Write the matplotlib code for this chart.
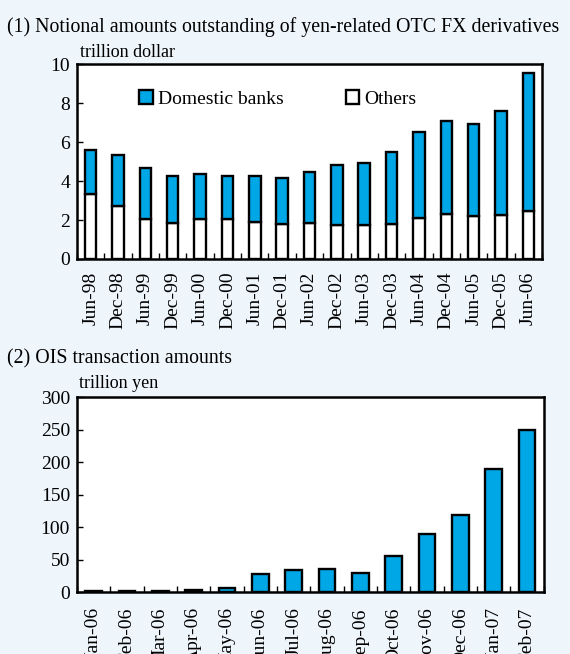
import matplotlib.pyplot as plt
import numpy as np

plt.rcParams['font.family'] = ['Liberation Serif', 'DejaVu Serif']

# (1) yen-related OTC FX derivatives, trillion dollar
periods = ["Jun-98", "Dec-98", "Jun-99", "Dec-99", "Jun-00", "Dec-00", "Jun-01", "Dec-01",
           "Jun-02", "Dec-02", "Jun-03", "Dec-03", "Jun-04", "Dec-04", "Jun-05", "Dec-05", "Jun-06"]
others = [3.35, 2.70, 2.07, 1.85, 2.05, 2.05, 1.91, 1.79, 1.85, 1.74, 1.73, 1.79,
          2.10, 2.32, 2.19, 2.26, 2.46]
domestic = [2.22, 2.63, 2.58, 2.39, 2.31, 2.21, 2.35, 2.38, 2.61, 3.06, 3.18, 3.71,
            4.41, 4.74, 4.73, 5.33, 7.06]

# (2) OIS transaction amounts, trillion yen
months = ["Jan-06", "Feb-06", "Mar-06", "Apr-06", "May-06", "Jun-06", "Jul-06",
          "Aug-06", "Sep-06", "Oct-06", "Nov-06", "Dec-06", "Jan-07", "Feb-07"]
ois = [1.0, 1.0, 2.0, 2.5, 6, 28, 34, 35, 30, 56, 89, 119, 189, 249]

bg = '#EEF5FB'
blue = '#00A7E6'

fig = plt.figure(figsize=(5.7, 6.54), dpi=100, facecolor=bg)

def style_axes(ax, n, pad):
    ax.set_xlim(-0.5, n - 0.5)
    ax.set_xticks(np.arange(n))
    ax.set_xticks(np.arange(n + 1) - 0.5, minor=True)
    ax.tick_params(axis='x', which='major', length=0, labelrotation=90, labelsize=14, pad=pad)
    ax.tick_params(axis='x', which='minor', direction='in', length=4, width=1)
    ax.tick_params(axis='y', direction='in', length=4, width=1, labelsize=14, pad=5)
    for s in ax.spines.values():
        s.set_linewidth(1.8)

# top chart
ax1 = fig.add_axes([0.135, 0.604, 0.816, 0.298])
x1 = np.arange(len(periods))
ax1.bar(x1, others, width=0.42, color='white', edgecolor='black', linewidth=1.7, label='Others')
ax1.bar(x1, domestic, width=0.42, bottom=others, color=blue, edgecolor='black',
        linewidth=1.7, label='Domestic banks')
style_axes(ax1, len(periods), 9)
ax1.set_ylim(0, 10)
ax1.set_yticks(range(0, 11, 2))
ax1.set_xticklabels(periods)
h, l = ax1.get_legend_handles_labels()
ax1.legend(h[::-1], l[::-1], ncol=2, loc='center', bbox_to_anchor=(0.432, 0.82),
           frameon=False, fontsize=14, handlelength=0.7, handleheight=0.7,
           handletextpad=0.25, columnspacing=3.2, borderpad=0)

fig.text(0.012, 0.958, "(1) Notional amounts outstanding of yen-related OTC FX derivatives",
         fontsize=14.3, va='center')
fig.text(0.14, 0.920, "trillion dollar", fontsize=13, va='center')

# bottom chart
ax2 = fig.add_axes([0.135, 0.0948, 0.819, 0.298])
x2 = np.arange(len(months))
ax2.bar(x2, ois, width=0.5, color=blue, edgecolor='black', linewidth=1.7)
style_axes(ax2, len(months), 11)
ax2.set_ylim(0, 300)
ax2.set_yticks(range(0, 301, 50))
ax2.set_xticklabels(months)

fig.text(0.012, 0.452, "(2) OIS transaction amounts", fontsize=14.3, va='center')
fig.text(0.138, 0.414, "trillion yen", fontsize=13, va='center')

fig.savefig('out.png', dpi=100, facecolor=bg)
